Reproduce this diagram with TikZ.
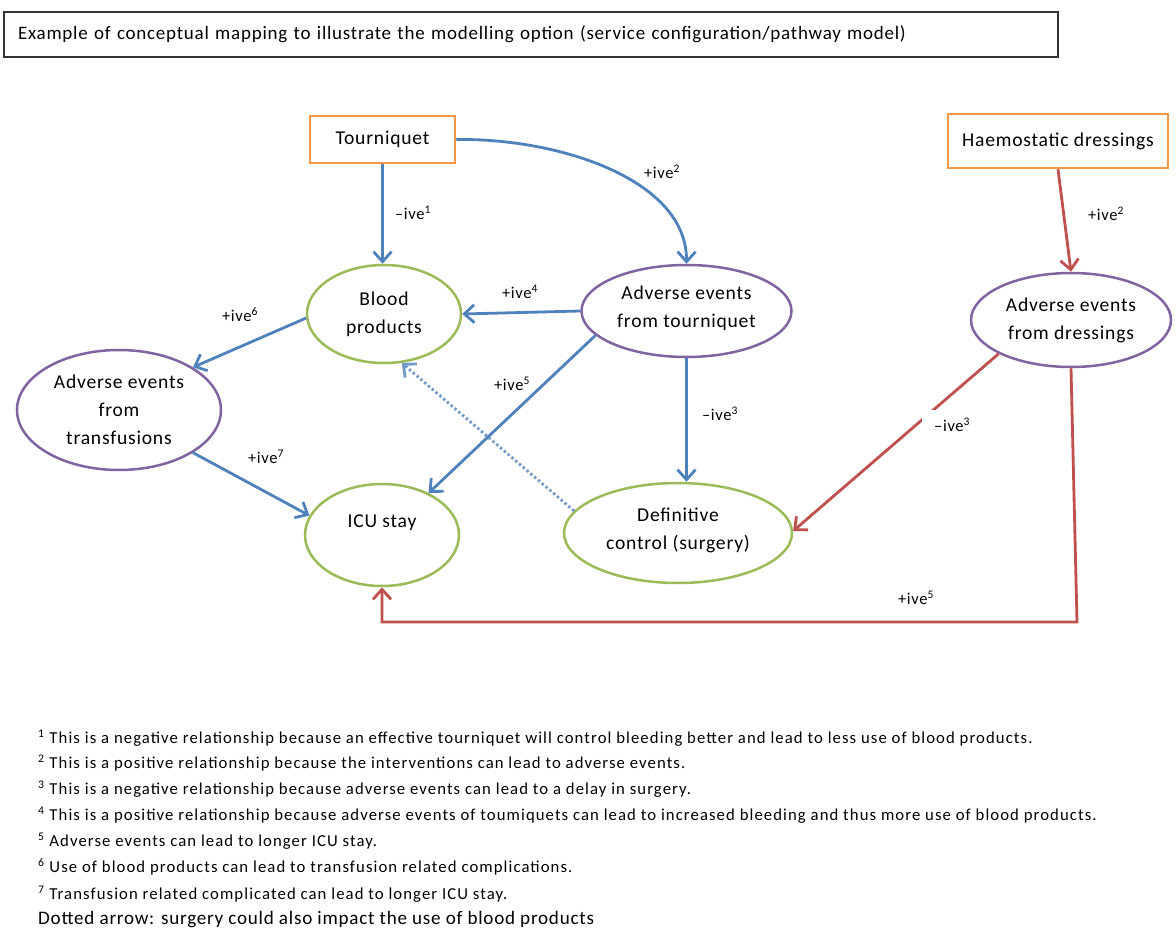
\documentclass[tikz,border=0pt]{standalone}
\usepackage{fontspec}
\setmainfont{Carlito}[LetterSpace=4]
\newfontfamily\notefont{Carlito}[LetterSpace=6.5]
\usetikzlibrary{arrows.meta,shapes.geometric}
\definecolor{oblue}{HTML}{4F81BD}
\definecolor{oorange}{HTML}{F79646}
\definecolor{ogreen}{HTML}{9BBB59}
\definecolor{opurple}{HTML}{8064A2}
\definecolor{ored}{HTML}{C0504D}
\tikzset{
  titlebox/.style={draw=black!80, line width=1.5pt, minimum width=1054pt, minimum height=45pt,
    inner xsep=14pt, text width=1026pt, align=left, font=\fontsize{19}{20}\selectfont},
  intbox/.style={draw=oorange, line width=2.5pt, font=\fontsize{19.6}{22}\selectfont},
  outc/.style={ellipse, draw=ogreen, line width=2.5pt, inner sep=0pt, align=center,
    font=\fontsize{19.6}{28}\selectfont},
  adv/.style={ellipse, draw=opurple, line width=2.5pt, inner sep=0pt, align=center,
    font=\fontsize{19.6}{28}\selectfont},
  tip/.style={-{Straight Barb[length=10pt,width=18pt,line width=2.8pt]}},
  barrow/.style={tip, draw=oblue, line width=2.8pt},
  rarrow/.style={tip, draw=ored, line width=2.8pt},
  darrow/.style={tip, draw=oblue!80, line width=2.8pt, dash pattern=on 2.5pt off 2.5pt},
  lbl/.style={font=\fontsize{16.5}{18}\selectfont, inner sep=1pt},
  note/.style={anchor=west, inner sep=0pt, font=\notefont\fontsize{16.7}{18}\selectfont},
}
\newcommand{\sps}[1]{\textsuperscript{#1}}
\begin{document}
\begin{tikzpicture}[x=1pt,y=-1pt]
\useasboundingbox[fill=white] (0,0) rectangle (1176,931);

% title
\node[titlebox] (title) at (531,34.5) {Example of conceptual mapping to illustrate the modelling option (service configuration/pathway model)};

% interventions
\node[intbox, minimum width=145pt, minimum height=47pt] (tq) at (382.5,139.5) {Tourniquet};
\node[intbox, minimum width=220pt, minimum height=54pt] (hd) at (1058,141) {Haemostatic dressings};

% ellipses
\node[outc, minimum width=154pt, minimum height=98pt] (bp) at (384,314) {Blood\\products};
\node[adv, minimum width=210pt, minimum height=92pt] (aet) at (686.5,311) {Adverse events\\from tourniquet\\[-20pt]\mbox{}};
\node[adv, minimum width=200pt, minimum height=94pt] (aed) at (1071,320) {Adverse events\\from dressings};
\node[adv, minimum width=204pt, minimum height=120pt] (atr) at (119,410) {Adverse events\\from\\transfusions};
\node[outc, minimum width=154pt, minimum height=102pt] (icu) at (382,535) {ICU stay\\\mbox{}};
\node[outc, minimum width=228pt, minimum height=100pt] (def) at (678,533) {Definitive\\control (surgery)\\[-20pt]\mbox{}};

% blue arrows
\draw[barrow] (tq.south) -- (tq.south |- bp.north);
\draw[barrow] (tq.east) .. controls (560,138) and (687,180) .. (aet.north);
\draw[barrow] (aet.west) -- (bp.east);
\draw[barrow] (aet.195) -- (icu.42);
\draw[barrow] (bp.183) -- (atr.30);
\draw[barrow] (atr.-30) -- (icu.165);
\draw[barrow] (aet.south) -- (aet.south |- def.north);
\draw[darrow] (def.168) -- (bp.-70);

% red arrows
\draw[rarrow] (hd.south) -- (aed.north);
\draw[rarrow] (aed.205) -- (def.1);
\coordinate (rc1) at (1077,622);
\coordinate (rc2) at (382,622);
\draw[rarrow] (aed.south) -- (rc1) -- (rc2) -- (icu.south);

% labels
\node[lbl] (l1) at (413,213) {–ive\sps{1}};
\node[lbl] (l2) at (662,172) {+ive\sps{2}};
\node[lbl] (l4) at (520,292) {+ive\sps{4}};
\node[lbl] (l5) at (512,384) {+ive\sps{5}};
\node[lbl] (l6) at (240,315) {+ive\sps{6}};
\node[lbl] (l7) at (266,457) {+ive\sps{7}};
\node[lbl] (l3) at (720,414) {–ive\sps{3}};
\node[lbl] (l2r) at (1106,214) {+ive\sps{2}};
\node[lbl, fill=white, anchor=north west, inner xsep=12pt, inner ysep=8pt] (l3r) at (922,410) {–ive\sps{3}};
\node[lbl] (l5r) at (916,598) {+ive\sps{5}};

% footnotes
\node[note] (n1) at (38,738) {\sps{1} This is a negative relationship because an effective tourniquet will control bleeding better and lead to less use of blood products.};
\node[note] (n2) at (38,763) {\sps{2} This is a positive relationship because the interventions can lead to adverse events.};
\node[note] (n3) at (38,789) {\sps{3} This is a negative relationship because adverse events can lead to a delay in surgery.};
\node[note] (n4) at (38,815) {\sps{4} This is a positive relationship because adverse events of toumiquets can lead to increased bleeding and thus more use of blood products.};
\node[note] (n5) at (38,841) {\sps{5} Adverse events can lead to longer ICU stay.};
\node[note] (n6) at (38,867) {\sps{6} Use of blood products can lead to transfusion related complications.};
\node[note] (n7) at (38,894) {\sps{7} Transfusion related complicated can lead to longer ICU stay.};
\node[note, font=\fontsize{19.1}{20}\selectfont] (n8) at (38,920) {Dotted arrow: surgery could also impact the use of blood products};
\end{tikzpicture}
\end{document}
